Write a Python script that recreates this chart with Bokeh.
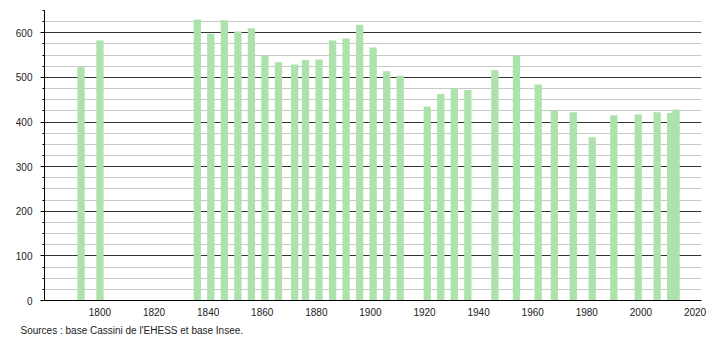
from bokeh.plotting import figure
from bokeh.models import FixedTicker, Range1d, Title, ColumnDataSource
from bokeh.embed import file_html
from bokeh.resources import INLINE

years = [1793, 1800, 1836, 1841, 1846, 1851, 1856, 1861, 1866, 1872, 1876, 1881,
         1886, 1891, 1896, 1901, 1906, 1911, 1921, 1926, 1931, 1936, 1946, 1954,
         1962, 1968, 1975, 1982, 1990, 1999, 2006, 2011, 2013]
population = [523, 583, 630, 598, 628, 603, 610, 548, 534, 529, 539, 540,
              583, 587, 618, 567, 514, 504, 435, 463, 475, 472, 516, 548,
              484, 426, 422, 366, 415, 417, 422, 420, 428]
x_ticks = [1800, 1820, 1840, 1860, 1880, 1900, 1920, 1940, 1960, 1980, 2000, 2020]
y_ticks = [0, 100, 200, 300, 400, 500, 600]
y_minor = list(range(0, 651, 25))
source_text = "Sources : base Cassini de l'EHESS et base Insee."

src = ColumnDataSource(dict(year=years, pop=population))

p = figure(width=710, height=340, output_backend="svg", toolbar_location=None,
           x_range=Range1d(1779.5, 2022.4), y_range=Range1d(0, 650),
           min_border_left=44, min_border_right=9, min_border_top=10,
           min_border_bottom=10)
p.outline_line_color = None
p.background_fill_color = "white"
p.border_fill_color = "white"

p.vbar(x="year", top="pop", bottom=0, width=2.7, source=src,
       fill_color="#ade2ad", line_color=None)

# axes
p.xaxis.ticker = FixedTicker(ticks=x_ticks)
p.yaxis.ticker = FixedTicker(ticks=y_ticks, minor_ticks=y_minor)
for ax in (p.xaxis[0], p.yaxis[0]):
    ax.axis_line_color = "black"
    ax.axis_line_width = 1
    ax.major_label_text_font = "Liberation Sans"
    ax.major_label_text_font_size = "10px"
    ax.major_label_text_color = "#222222"
p.xaxis.major_tick_line_color = None
p.xaxis.minor_tick_line_color = None
p.xaxis.major_label_standoff = 1
p.yaxis.major_tick_out = 4
p.yaxis.major_tick_in = 0
p.yaxis.minor_tick_out = 2
p.yaxis.minor_tick_in = 0
p.yaxis.major_tick_line_color = "black"
p.yaxis.minor_tick_line_color = "black"
p.yaxis.major_label_standoff = 8

# grid
p.xgrid.grid_line_color = None
p.ygrid.grid_line_color = "#333333"
p.ygrid.grid_line_width = 1
p.ygrid.minor_grid_line_color = "#c8c8c8"
p.ygrid.minor_grid_line_width = 1
p.ygrid.level = "underlay"

t = Title(text=source_text, align="left", offset=-24,
          text_font="Liberation Sans", text_font_size="10px",
          text_font_style="normal", text_color="#222222", standoff=9)
p.add_layout(t, "below")

open("out.html", "w").write(file_html(p, INLINE))
